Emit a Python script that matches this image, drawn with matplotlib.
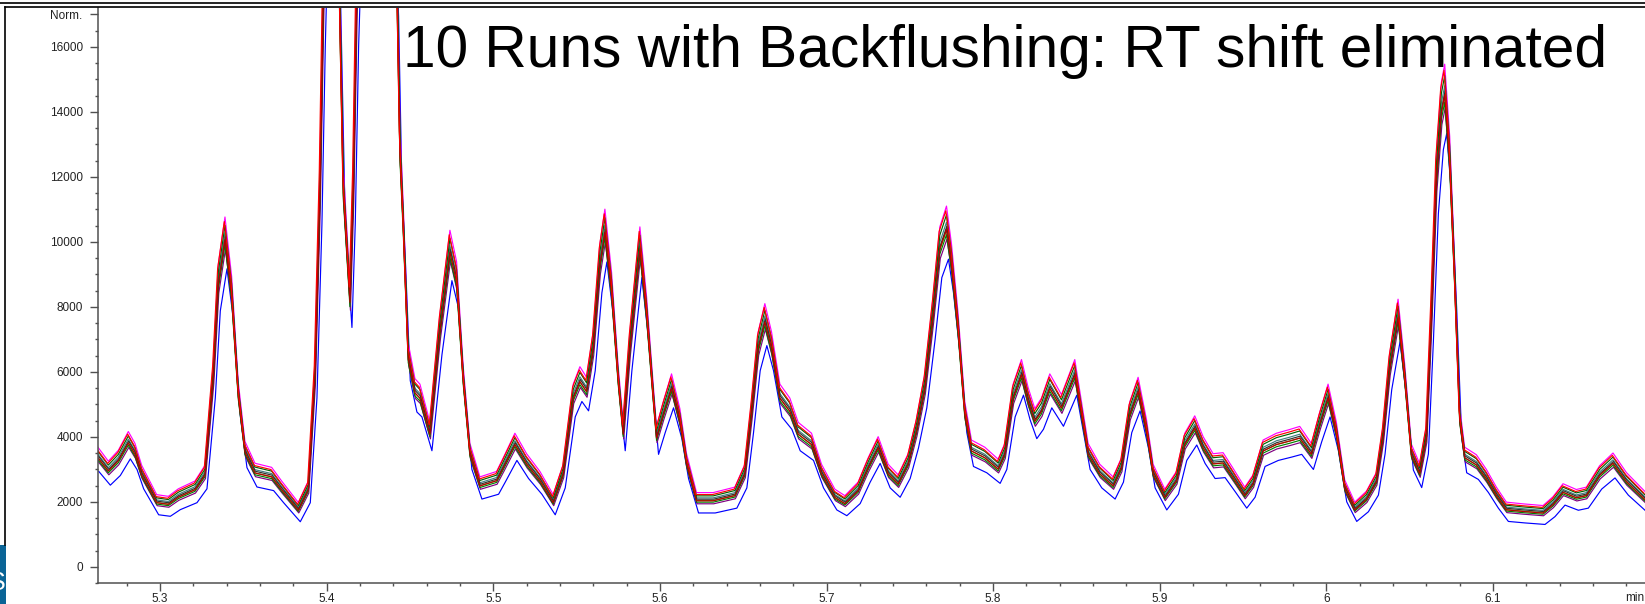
import numpy as np
import matplotlib.pyplot as plt
from matplotlib.lines import Line2D
from matplotlib.patches import Rectangle
from matplotlib.ticker import MultipleLocator

# retention time (min) and the middle of the overlaid traces (counts)
rt = [5.262, 5.269, 5.275, 5.281, 5.285, 5.289, 5.298, 5.305, 5.311, 5.321, 5.327,
      5.332, 5.335, 5.339, 5.343, 5.347, 5.351, 5.357, 5.367, 5.373, 5.383, 5.389,
      5.393, 5.396, 5.398, 5.401, 5.404, 5.407, 5.410, 5.414, 5.416, 5.418, 5.425,
      5.435, 5.442, 5.444, 5.446, 5.449, 5.453, 5.456, 5.462, 5.468, 5.474, 5.478,
      5.482, 5.486, 5.492, 5.502, 5.506, 5.513, 5.520, 5.528, 5.536, 5.542, 5.548,
      5.552, 5.556, 5.560, 5.564, 5.567, 5.571, 5.575, 5.578, 5.582, 5.588, 5.592,
      5.596, 5.598, 5.602, 5.607, 5.612, 5.616, 5.622, 5.632, 5.645, 5.651, 5.655,
      5.659, 5.663, 5.667, 5.672, 5.678, 5.683, 5.691, 5.697, 5.705, 5.711, 5.719,
      5.725, 5.731, 5.737, 5.743, 5.749, 5.754, 5.759, 5.764, 5.768, 5.772, 5.775,
      5.779, 5.783, 5.787, 5.795, 5.803, 5.807, 5.812, 5.817, 5.821, 5.825, 5.829,
      5.834, 5.841, 5.849, 5.853, 5.857, 5.864, 5.872, 5.877, 5.882, 5.887, 5.892,
      5.896, 5.903, 5.910, 5.915, 5.921, 5.926, 5.932, 5.938, 5.944, 5.951, 5.956,
      5.962, 5.970, 5.978, 5.984, 5.991, 5.996, 6.001, 6.006, 6.011, 6.017, 6.024,
      6.030, 6.034, 6.038, 6.043, 6.047, 6.051, 6.056, 6.060, 6.063, 6.066, 6.069,
      6.071, 6.074, 6.077, 6.080, 6.083, 6.090, 6.096, 6.102, 6.108, 6.118, 6.130,
      6.136, 6.142, 6.150, 6.156, 6.164, 6.172, 6.180, 6.191]
signal = [3440, 2980, 3300, 3850, 3500, 2860, 2000, 1950, 2170, 2400, 2860,
          5870, 8750, 10140, 8400, 5290, 3560, 2920, 2800, 2400, 1770, 2400,
          5870, 11640, 17500, 24000, 25000, 19500, 11600, 8200, 11640, 17500, 30000,
          28000, 18500, 12800, 10490, 6440, 5400, 5240, 4120, 7290, 9750, 8830,
          5750, 3500, 2520, 2680, 3080, 3800, 3200, 2680, 2000, 2890, 5240,
          5750, 5440, 6770, 9350, 10370, 8520, 5750, 4120, 6770, 9850, 7810,
          5240, 4000, 4720, 5540, 4520, 3200, 2060, 2060, 2220, 2890, 4720,
          6770, 7600, 6770, 5240, 4830, 4120, 3800, 2890, 2160, 1970, 2370,
          3080, 3700, 2890, 2580, 3200, 4210, 5540, 7810, 9850, 10460, 9350,
          7290, 4720, 3600, 3390, 3040, 3500, 5240, 5960, 5140, 4520, 4830,
          5540, 4930, 5960, 4720, 3500, 2890, 2520, 3080, 4720, 5440, 4210,
          2890, 2160, 2680, 3800, 4310, 3700, 3200, 3230, 2770, 2220, 2580,
          3600, 3800, 3910, 4000, 3500, 4420, 5240, 4120, 2430, 1780, 2100,
          2650, 4010, 6140, 7730, 5820, 3480, 2900, 4010, 7730, 11970, 14090,
          14620, 12500, 8800, 4550, 3390, 3170, 2740, 2220, 1780, 1730, 1680,
          1940, 2320, 2150, 2220, 2850, 3220, 2650, 2100]

# ten runs: gain and baseline offset relative to the middle trace, small RT offset (min)
run_gain = [0.93, 1.05, 0.99, 0.97, 1.01, 0.98, 1.00, 1.03, 0.995, 1.04]
run_offset = [-260, 120, 0, -60, 40, -30, 20, 60, -20, 80]
run_shift = [0.0012, 0.0, 0.0, 0.0003, 0.0, 0.0, 0.0002, 0.0, 0.0, -0.0004]
run_colors = ["#0000ff", "#ff00ff", "#808000", "#800080", "#408080",
              "#008000", "#303030", "#006400", "#b00000", "#ff0000"]

x_ticks = [5.3, 5.4, 5.5, 5.6, 5.7, 5.8, 5.9, 6.0, 6.1]
x_labels = ["5.3", "5.4", "5.5", "5.6", "5.7", "5.8", "5.9", "6", "6.1"]
y_ticks = [0, 2000, 4000, 6000, 8000, 10000, 12000, 14000, 16000, 17000]
y_labels = ["0", "2000", "4000", "6000", "8000", "10000", "12000", "14000", "16000", "Norm."]

W, H = 1645, 604
fig = plt.figure(figsize=(W / 100, H / 100), dpi=100)
ax = fig.add_axes([98 / W, (H - 583) / H, (W - 98) / W, (583 - 8) / H])

t = np.array(rt)
s = np.array(signal)
for g, off, sh, c in zip(run_gain, run_offset, run_shift, run_colors):
    ax.plot(t + sh, s * g + off, color=c, lw=0.85)

ax.set_xlim(5.2628, 6.1912)
ax.set_ylim(-500, 17200)

ax.set_xticks(x_ticks)
ax.set_xticklabels(x_labels)
ax.set_yticks(y_ticks)
ax.set_yticklabels(y_labels)
ax.xaxis.set_minor_locator(MultipleLocator(0.02))
ax.yaxis.set_minor_locator(MultipleLocator(500))

for sp in ["top", "right"]:
    ax.spines[sp].set_visible(False)
for sp in ["left", "bottom"]:
    ax.spines[sp].set_color("#505050")
    ax.spines[sp].set_linewidth(1.1)

ax.tick_params(which="major", length=6, width=1, color="#505050",
               labelsize=8.5, labelcolor="#222222", labelfontfamily="Liberation Sans")
ax.tick_params(which="minor", length=2.5, width=1, color="#505050")
ax.tick_params(axis="x", which="major", pad=1.5)
ax.tick_params(axis="y", which="major", pad=5)

fig.text(1625 / W, 1 - 598 / H, "min", fontsize=8.5, color="#222222",
         family="Liberation Sans", ha="left", va="center")

fig.text(403 / W, 1 - 67 / H, "10 Runs with Backflushing: RT shift eliminated",
         fontsize=42.2, family="Liberation Sans", ha="left", va="baseline")

# slide frame and the cut-off blue tab in the lower left corner
fig.add_artist(Line2D([0, 1], [1 - 3 / H, 1 - 3 / H], color="black", lw=1.2))
fig.add_artist(Line2D([5 / W, 1], [1 - 7 / H, 1 - 7 / H], color="black", lw=1.2))
fig.add_artist(Line2D([5 / W, 5 / W], [1 - 7 / H, 1 - 545 / H], color="black", lw=1.2))
fig.add_artist(Rectangle((0, 0), 6 / W, (H - 545) / H, transform=fig.transFigure,
                         color="#0a6496", lw=0))
fig.text(6 / W, 1 - 583 / H, "S", color="white", fontsize=18,
         family="Liberation Sans", ha="right", va="center")

fig.savefig("out.png", dpi=100)
